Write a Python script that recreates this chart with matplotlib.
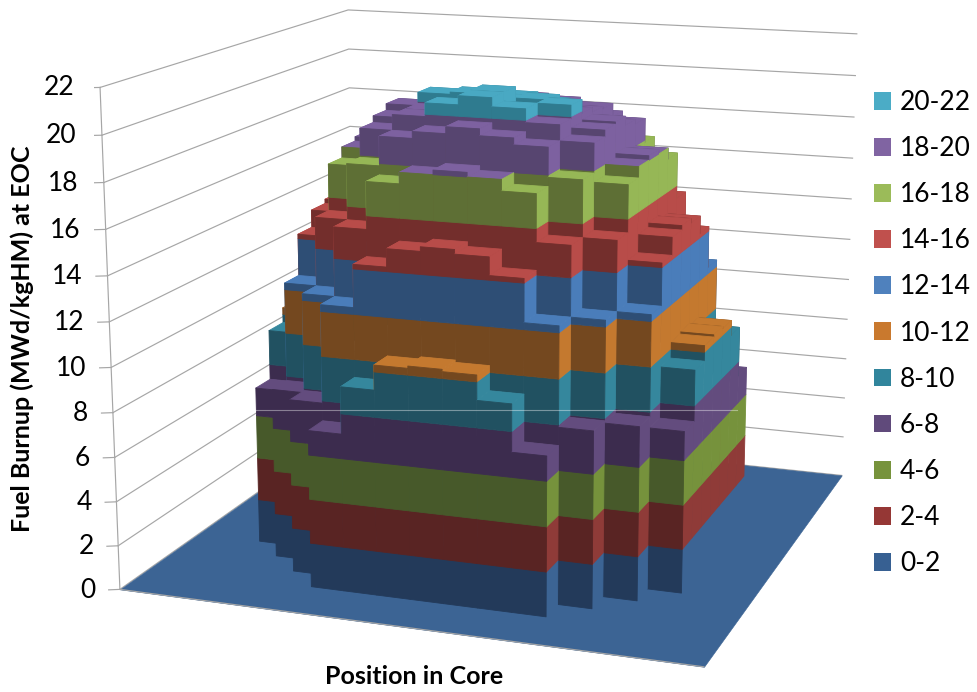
import numpy as np
import matplotlib
matplotlib.use("Agg")
import matplotlib.pyplot as plt
from matplotlib.lines import Line2D
from matplotlib.patches import Patch
from mpl_toolkits.mplot3d import proj3d
from mpl_toolkits.mplot3d.art3d import Poly3DCollection

plt.rcParams['font.family'] = ['Lato', 'DejaVu Sans']

# burnup per assembly, row 0 is the front of the core
burnup_core = np.array([
    [0, 0, 0, 7.1, 9.2, 10.3, 10.4, 10.3, 9.2, 7.1, 0, 0, 0],
    [0, 0, 7.9, 12.3, 14.2, 15.0, 15.2, 15.0, 14.2, 12.3, 7.9, 0, 0],
    [0, 7.8, 12.3, 15.4, 17.5, 18.0, 18.2, 18.0, 17.5, 15.4, 12.3, 7.8, 0],
    [7.3, 12.3, 15.4, 17.9, 19.2, 19.5, 19.8, 19.5, 19.2, 17.9, 15.4, 12.3, 7.3],
    [9.6, 14.2, 17.5, 19.2, 19.9, 20.5, 20.9, 20.5, 19.9, 19.2, 17.5, 14.2, 9.6],
    [10.3, 15.0, 18.0, 19.5, 19.9, 20.2, 20.9, 20.2, 20.5, 19.5, 18.0, 15.0, 10.3],
    [10.4, 15.2, 18.2, 19.8, 20.4, 20.5, 20.3, 20.4, 19.9, 19.6, 18.2, 15.2, 10.4],
    [10.3, 15.0, 18.0, 19.5, 19.9, 20.0, 20.2, 20.0, 19.7, 19.2, 18.0, 15.0, 10.3],
    [9.6, 14.2, 17.5, 19.2, 19.6, 19.8, 19.9, 19.8, 19.6, 19.0, 17.5, 14.2, 9.6],
    [7.3, 12.3, 15.4, 17.9, 19.0, 19.2, 19.3, 19.2, 19.0, 17.9, 15.4, 12.3, 7.3],
    [0, 7.8, 12.3, 15.4, 17.5, 18.0, 18.2, 18.0, 17.5, 15.4, 12.3, 7.8, 0],
    [0, 0, 7.9, 12.3, 14.2, 15.0, 15.2, 15.0, 14.2, 12.3, 7.9, 0, 0],
    [0, 0, 0, 7.3, 9.6, 10.3, 10.4, 10.3, 9.6, 7.3, 0, 0, 0],
])
margin_cells = 2

band_labels = ['0-2', '2-4', '4-6', '6-8', '8-10', '10-12',
               '12-14', '14-16', '16-18', '18-20', '20-22']
band_lit = ['#3c6494', '#8f3b38', '#76923c', '#634c7e', '#35879d', '#c4792f',
            '#4a7dba', '#b84c49', '#96b756', '#7d61a0', '#49a9c3']
band_dark = ['#233a5a', '#592423', '#47592a', '#3c2c4e', '#215161', '#74481f',
             '#2e4e75', '#732e2c', '#5e6f35', '#574570', '#2f7b8f']
legend_colors = ['#376092', '#953735', '#77933c', '#604a7b', '#31859c', '#c9792e',
                 '#4f81bd', '#c0504d', '#9bbb59', '#8064a2', '#4bacc6']
z_ticks = list(range(0, 23, 2))

burnup = np.pad(burnup_core, margin_cells)
n_rows, n_cols = burnup.shape
z_top = z_ticks[-1]


def band_of(z):
    return min(int(z // 2), len(band_labels) - 1)


def split_bands(lo, hi):
    # cut a vertical span where it crosses a band boundary
    cuts = [lo] + [b for b in z_ticks if lo < b < hi] + [hi]
    return list(zip(cuts[:-1], cuts[1:]))


def column_polys(r, c):
    v = burnup[r, c]
    polys, colors = [], []
    below = burnup[r - 1, c] if r > 0 else 0
    right = burnup[r, c + 1] if c < n_cols - 1 else 0

    # front wall, faces the viewer and stays in shadow
    for z0, z1 in split_bands(below, v):
        polys.append([(c, r, z0), (c + 1, r, z0), (c + 1, r, z1), (c, r, z1)])
        colors.append(band_dark[band_of(z0)])
    # side wall on the lit side
    for z0, z1 in split_bands(right, v):
        polys.append([(c + 1, r, z0), (c + 1, r + 1, z0), (c + 1, r + 1, z1), (c + 1, r, z1)])
        colors.append(band_lit[band_of(z0)])
    polys.append([(c, r, v), (c + 1, r, v), (c + 1, r + 1, v), (c, r + 1, v)])
    colors.append(band_lit[band_of(v)])
    return polys, colors


fig = plt.figure(figsize=(9.77, 6.92), dpi=100)
ax = fig.add_subplot(projection='3d', computed_zorder=False)
ax.set_position([94 / 977, -18 / 692, 800 / 977, 800 / 692])
ax.set_xlim(0, n_cols, view_margin=0)
ax.set_ylim(0, n_rows, view_margin=0)
ax.set_zlim(0, z_top, view_margin=0)
ax.set_box_aspect((1, 1, 0.84), zoom=1.15)
ax.set_proj_type('persp', focal_length=0.578)
ax.view_init(elev=14, azim=-70.5)
ax.set_axis_off()
ax.patch.set_alpha(0)

# wall gridlines and the ticks on the left edge
grid_color = '#a6a6a6'
proj = ax.get_proj()
for z in z_ticks:
    ax.plot([0, 0, n_cols], [0, n_rows, n_rows], [z, z, z], color=grid_color, lw=0.85, zorder=0)
    ax.plot([-0.28, 0], [-0.14, 0], [z, z], color=grid_color, lw=0.85, zorder=0)
    lx, ly, _ = proj3d.proj_transform(-0.6, -0.3, z, proj)
    ax.text2D(lx, ly, str(z), transform=ax.transData, ha='right', va='center',
              fontsize=19, color='black')
ax.plot([0, 0], [0, 0], [0, z_top], color=grid_color, lw=0.85, zorder=0)

# floor of the plot in one piece
ax.add_collection3d(Poly3DCollection([[(0, 0, 0), (n_cols, 0, 0), (n_cols, n_rows, 0), (0, n_rows, 0)]],
                                     facecolors=band_lit[0], edgecolors=band_lit[0],
                                     linewidths=0.4, zorder=1))

# columns go back to front so nearer ones paint over farther ones
for r in range(n_rows - 1, -1, -1):
    for c in range(n_cols):
        if burnup[r, c] == 0:
            continue
        polys, colors = column_polys(r, c)
        ax.add_collection3d(Poly3DCollection(polys, facecolors=colors, edgecolors=colors,
                                             linewidths=0.6, zorder=1))

ax.plot([0, n_cols], [0, 0], [0, 0], color=grid_color, lw=0.85, zorder=2)

# pale line running across the body of the chart
fig.add_artist(Line2D([255 / 977, 737 / 977], [1 - 410 / 692, 1 - 410 / 692],
                      color='white', alpha=0.4, lw=0.8))

handles = [Patch(facecolor=col, edgecolor='none') for col in legend_colors[::-1]]
fig.legend(handles, band_labels[::-1], loc='upper left', bbox_to_anchor=(874 / 977, 1 - 90 / 692),
           frameon=False, fontsize=19, handlelength=0.66, handleheight=0.66,
           handletextpad=0.32, labelspacing=0.80, borderpad=0, borderaxespad=0)

fig.text(22 / 977, 1 - 339 / 692, 'Fuel Burnup (MWd/kgHM) at EOC', rotation=90,
         ha='center', va='center', fontsize=18, fontweight='bold')
fig.text(414 / 977, 1 - 676 / 692, 'Position in Core', ha='center', va='center',
         fontsize=18, fontweight='bold')

fig.savefig('out.png', dpi=100, facecolor='white')
